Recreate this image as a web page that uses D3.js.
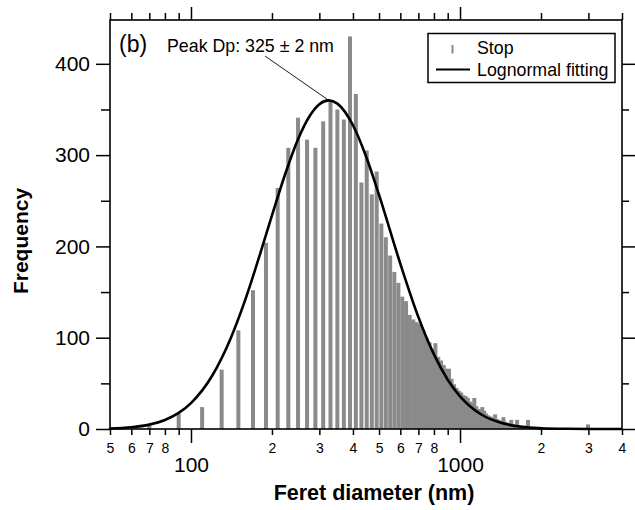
<!DOCTYPE html>
<html>
<head>
<meta charset="utf-8">
<script src="https://cdn.jsdelivr.net/npm/d3@7"></script>
<style>
  body { margin: 0; background: #fff; }
  svg { display: block; font-family: "Liberation Sans", Arial, sans-serif; }
</style>
</head>
<body>
<svg id="chart" width="635" height="510"></svg>
<script>
// bin centres of the Feret diameter histogram (nm)
const diameters = [
    50, 70, 90, 110, 130, 150, 170, 190, 210, 230,
    250, 270, 290, 310, 330, 350, 370, 390, 410, 430,
    450, 470, 490, 510, 530, 550, 570, 590, 610, 630,
    650, 670, 690, 710, 730, 750, 770, 790, 810, 830,
    850, 870, 890, 910, 930, 950, 970, 990, 1010, 1030,
    1050, 1070, 1090, 1110, 1130, 1150, 1170, 1190, 1210, 1230,
    1250, 1270, 1290, 1310, 1330, 1350, 1370, 1390, 1410, 1430,
    1450, 1470, 1490, 1510, 1530, 1550, 1570, 1590, 1610, 1630,
    1650, 1670, 1690, 1710, 1730, 1750, 1770, 1790, 1810, 1830,
    1850, 1870, 1890, 1910, 1930, 1950, 1970, 1990, 2990
];
const counts = [
    1, 4, 17, 24, 65, 108, 152, 204, 264, 308,
    341, 317, 308, 337, 359, 350, 339, 430, 367, 270,
    305, 257, 282, 225, 210, 190, 172, 160, 145, 140,
    125, 120, 117, 115, 108, 100, 95, 88, 94, 79,
    75, 70, 66, 66, 55, 49, 45, 42, 40, 37,
    36, 34, 30, 28, 34, 25, 22, 20, 24, 20,
    17, 15, 14, 13, 12, 16, 11, 10, 9, 8,
    13, 8, 7, 6, 6, 10, 5, 5, 4, 10,
    4, 3, 3, 3, 3, 2, 2, 10, 2, 2,
    1, 2, 1, 1, 1, 1, 1, 1, 5
];

// lognormal fitting curve
const fitD = [50, 60, 70, 80, 90, 100, 120, 140, 160, 180, 200, 225, 250, 275, 300, 325,
    350, 400, 450, 500, 600, 700, 800, 900, 1000, 1200, 1400, 1700, 2000, 2500, 3000, 4000];
const fitF = [0.6, 1.9, 4.8, 9.9, 17.6, 28.4, 58.6, 98.4, 143.7, 190.2, 234, 281, 317.4, 342, 355.8, 360,
    356.4, 332.7, 296.6, 256.4, 181, 122.7, 81.7, 54, 35.8, 15.9, 7.3, 2.4, 0.9, 0.2, 0.05, 0];

const peakD = 325;
const peakF = 360;

const yMajor = [0, 100, 200, 300, 400];
const yMinor = [50, 150, 250, 350];
const xMajor = [100, 1000];
const xMinor = [50, 60, 70, 80, 90, 200, 300, 400, 500, 600, 700, 800, 900, 2000, 3000, 4000];
const xMinorLabels = [50, 60, 70, 80, 200, 300, 400, 500, 600, 700, 800, 2000, 3000, 4000];

const margin = ({top: 20, right: 13, bottom: 81, left: 110});
const width = 635;
const height = 510;

const svg = d3.select('#chart');

const x = d3.scaleLog()
    .domain([50, 4000])
    .range([margin.left, width - margin.right]);

const y = d3.scaleLinear()
    .domain([0, 448])
    .range([height - margin.bottom, margin.top]);

const barColor = '#8a8a8a';
const barW = 4;

// bars
svg.append('g')
    .selectAll('rect')
    .data(diameters)
    .join('rect')
    .attr('x', d => x(d) - barW / 2)
    .attr('y', (d, i) => y(counts[i]))
    .attr('width', barW)
    .attr('height', (d, i) => y(0) - y(counts[i]))
    .attr('fill', barColor);

// fitted curve
const line = d3.line()
    .x(d => x(d[0]))
    .y(d => y(d[1]))
    .curve(d3.curveMonotoneX);

svg.append('path')
    .datum(fitD.map((d, i) => [d, fitF[i]]))
    .attr('d', line)
    .attr('fill', 'none')
    .attr('stroke', '#000')
    .attr('stroke-width', 2.6);

// axes
const styleAxis = g => {
    g.select('.domain').remove();
    g.selectAll('.tick line').attr('stroke', '#000').attr('stroke-width', 1.5);
    g.selectAll('.tick text').attr('fill', '#000').attr('font-family', null);
};

const bottomY = y(0);
const topY = y(448);

svg.append('g')
    .attr('transform', `translate(0,${bottomY})`)
    .call(d3.axisBottom(x).tickValues(xMinor).tickSize(6).tickPadding(8)
        .tickFormat(d => xMinorLabels.includes(d) ? String(d).charAt(0) : ''))
    .call(styleAxis)
    .call(g => g.selectAll('.tick text').attr('font-size', 14));

svg.append('g')
    .attr('transform', `translate(0,${bottomY})`)
    .call(d3.axisBottom(x).tickValues(xMajor).tickSize(14).tickPadding(14).tickFormat(d3.format('d')))
    .call(styleAxis)
    .call(g => g.selectAll('.tick text').attr('font-size', 21));

svg.append('g')
    .attr('transform', `translate(0,${topY})`)
    .call(d3.axisTop(x).tickValues(xMinor).tickSize(7).tickFormat(''))
    .call(styleAxis);

svg.append('g')
    .attr('transform', `translate(0,${topY})`)
    .call(d3.axisTop(x).tickValues(xMajor).tickSize(13).tickFormat(''))
    .call(styleAxis);

svg.append('g')
    .attr('transform', `translate(${margin.left},0)`)
    .call(d3.axisLeft(y).tickValues(yMajor).tickSize(14).tickPadding(6))
    .call(styleAxis)
    .call(g => g.selectAll('.tick text').attr('font-size', 21));

svg.append('g')
    .attr('transform', `translate(${margin.left},0)`)
    .call(d3.axisLeft(y).tickValues(yMinor).tickSize(9).tickFormat(''))
    .call(styleAxis);

svg.append('g')
    .attr('transform', `translate(${width - margin.right},0)`)
    .call(d3.axisRight(y).tickValues(yMajor).tickSize(13).tickFormat(''))
    .call(styleAxis);

svg.append('g')
    .attr('transform', `translate(${width - margin.right},0)`)
    .call(d3.axisRight(y).tickValues(yMinor).tickSize(7).tickFormat(''))
    .call(styleAxis);

// frame
svg.append('rect')
    .attr('x', margin.left)
    .attr('y', topY)
    .attr('width', width - margin.right - margin.left)
    .attr('height', bottomY - topY)
    .attr('fill', 'none')
    .attr('stroke', '#000')
    .attr('stroke-width', 1.6);

// axis titles
svg.append('text')
    .attr('x', 374)
    .attr('y', 500)
    .attr('text-anchor', 'middle')
    .attr('font-size', 21.5)
    .attr('font-weight', 'bold')
    .text('Feret diameter (nm)');

svg.append('text')
    .attr('transform', 'translate(28,241) rotate(-90)')
    .attr('text-anchor', 'middle')
    .attr('font-size', 21)
    .attr('font-weight', 'bold')
    .text('Frequency');

// panel label and annotation
svg.append('text')
    .attr('x', 119)
    .attr('y', 52)
    .attr('font-size', 23)
    .text('(b)');

svg.append('text')
    .attr('x', 167)
    .attr('y', 52)
    .attr('font-size', 17.8)
    .text('Peak Dp: 325 ± 2 nm');

svg.append('line')
    .attr('x1', 265)
    .attr('y1', 56)
    .attr('x2', x(peakD))
    .attr('y2', y(peakF))
    .attr('stroke', '#000')
    .attr('stroke-width', 0.9);

// legend
const legend = svg.append('g');
legend.append('rect')
    .attr('x', 428)
    .attr('y', 33.5)
    .attr('width', 187)
    .attr('height', 49)
    .attr('fill', '#fff')
    .attr('stroke', '#000')
    .attr('stroke-width', 1.5);
legend.append('rect')
    .attr('x', 451.5)
    .attr('y', 45)
    .attr('width', 2)
    .attr('height', 8.5)
    .attr('fill', barColor);
legend.append('text')
    .attr('x', 477)
    .attr('y', 54)
    .attr('font-size', 17.8)
    .text('Stop');
legend.append('line')
    .attr('x1', 436)
    .attr('x2', 470)
    .attr('y1', 69.5)
    .attr('y2', 69.5)
    .attr('stroke', '#000')
    .attr('stroke-width', 2);
legend.append('text')
    .attr('x', 477)
    .attr('y', 76)
    .attr('font-size', 17.8)
    .text('Lognormal fitting');
</script>
</body>
</html>
